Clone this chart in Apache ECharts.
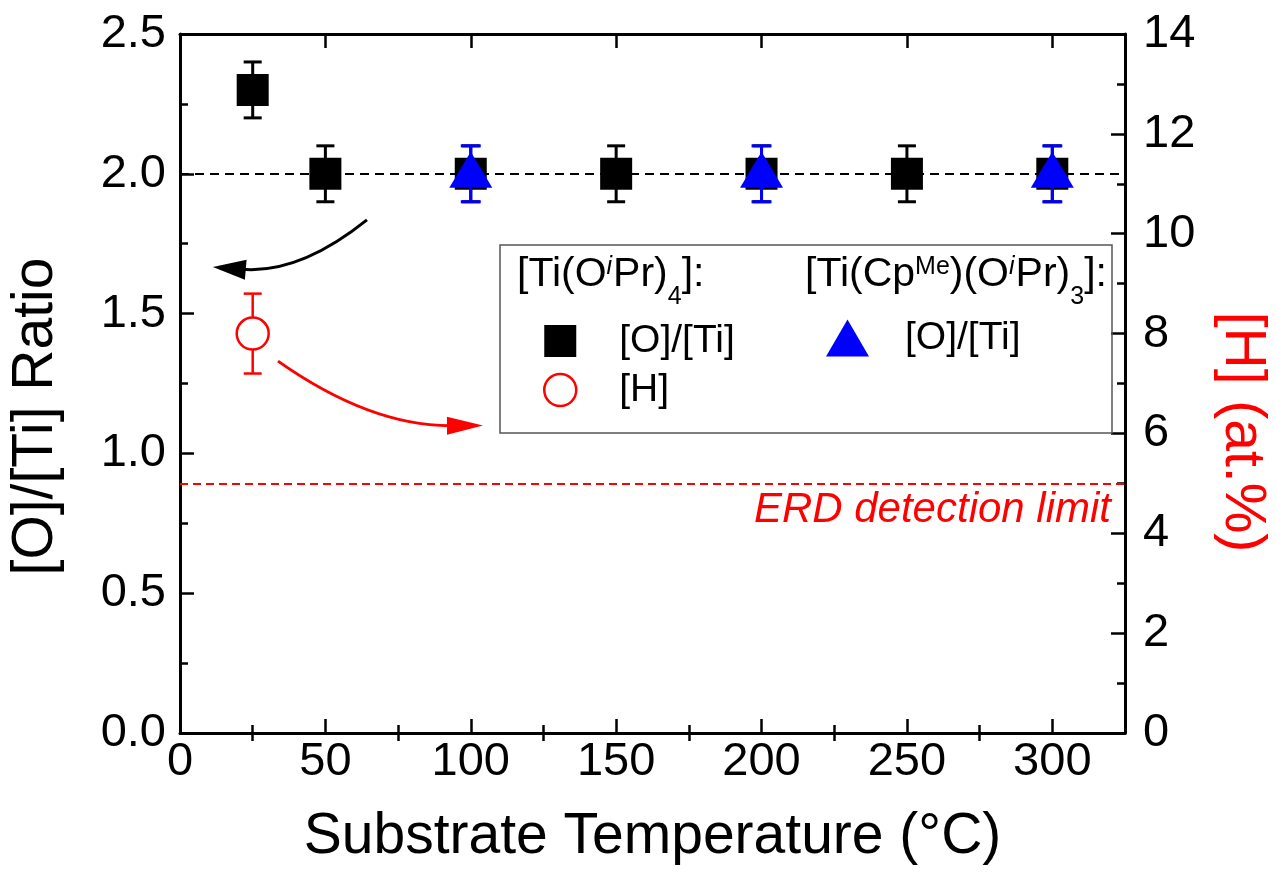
<!DOCTYPE html>
<html>
<head>
<meta charset="utf-8">
<title>[O]/[Ti] ratio and [H] vs substrate temperature</title>
<script src="https://cdn.jsdelivr.net/npm/echarts@6.0.0/dist/echarts.min.js"></script>
<style>
  html, body { margin: 0; padding: 0; background: #fff; }
  #chart { width: 1276px; height: 886px; }
</style>
</head>
<body>
<div id="chart"></div>
<script>
// values
const sqTemp = [25, 50, 100, 150, 200, 250, 300];
const sqRatio = [2.3, 2.0, 2.0, 2.0, 2.0, 2.0, 2.0];
const sqErr = [0.1, 0.1, 0.1, 0.1, 0.1, 0.1, 0.1];

const triTemp = [100, 200, 300];
const triRatio = [2.0, 2.0, 2.0];
const triErr = [0.1, 0.1, 0.1];

const hTemp = [25];
const hConc = [8.0];
const hErr = [0.8];

const ratioRef = 2.0;   // stoichiometric TiO2
const erdLimit = 5.0;   // at.%

// annotation arrows, [from, to] in (temperature, ratio) units
const arrowBlack = [[64.3, 1.835], [11.3, 1.667]];
const arrowRed = [[33.7, 1.33], [104.2, 1.1]];

const xMajorTicks = [0, 50, 100, 150, 200, 250, 300];
const xMinorTicks = [25, 75, 125, 175, 225, 275];

const legendNames = { sq: '[O]/[Ti]', h: '[H]', tri: '[O]/[Ti]' };

const FONT = "'Liberation Sans', Arial, Helvetica, sans-serif";
const BLACK = '#000000';
const BLUE = '#0000ff';
const RED = '#ff0000';

function errData(xs, ys, es) {
  return xs.map((x, i) => [x, ys[i] - es[i], ys[i] + es[i]]);
}

function errorBarRender(color, capHalf, width) {
  return function (params, api) {
    const x = api.value(0);
    const top = api.coord([x, api.value(2)]);
    const bot = api.coord([x, api.value(1)]);
    const seg = (x1, y1, x2, y2) => ({
      type: 'line',
      shape: { x1: x1, y1: y1, x2: x2, y2: y2 },
      style: { stroke: color, lineWidth: width }
    });
    return {
      type: 'group',
      children: [
        seg(top[0], top[1], bot[0], bot[1]),
        seg(top[0] - capHalf, top[1], top[0] + capHalf, top[1]),
        seg(bot[0] - capHalf, bot[1], bot[0] + capHalf, bot[1])
      ]
    };
  };
}

function arrowRender(color, bend, headLen, headHalf, width) {
  return function (params, api) {
    const p1 = api.coord([api.value(0), api.value(1)]);
    const p2 = api.coord([api.value(2), api.value(3)]);
    const cx = (p1[0] + p2[0]) / 2 - (p1[1] - p2[1]) * bend;
    const cy = (p1[1] + p2[1]) / 2 - (p2[0] - p1[0]) * bend;
    let dx = p2[0] - cx;
    let dy = p2[1] - cy;
    const d = Math.hypot(dx, dy);
    dx /= d;
    dy /= d;
    const bx = p2[0] - dx * headLen;
    const by = p2[1] - dy * headLen;
    return {
      type: 'group',
      children: [
        {
          type: 'bezierCurve',
          shape: { x1: p1[0], y1: p1[1], x2: bx + dx * 4, y2: by + dy * 4, cpx1: cx, cpy1: cy },
          style: { stroke: color, lineWidth: width, fill: null }
        },
        {
          type: 'polygon',
          shape: { points: [[p2[0], p2[1]], [bx - dy * headHalf, by + dx * headHalf], [bx + dy * headHalf, by - dx * headHalf]] },
          style: { fill: color }
        }
      ]
    };
  };
}

const tickStyle = { color: BLACK, width: 2.5 };
const lineStyle = { color: BLACK, width: 3 };

const chart = echarts.init(document.getElementById('chart'), null, { renderer: 'canvas' });

const headerRich = {
  n: { fontSize: 41, lineHeight: 70, fontFamily: FONT, fill: BLACK },
  sup: { fontSize: 25, lineHeight: 25, verticalAlign: 'top', padding: [15, 0, 0, 0], fontFamily: FONT, fill: BLACK },
  supi: { fontSize: 25, lineHeight: 25, verticalAlign: 'top', padding: [15, 1, 0, 0], fontStyle: 'italic', fontFamily: FONT, fill: BLACK },
  sub: { fontSize: 25, lineHeight: 25, verticalAlign: 'bottom', fontFamily: FONT, fill: BLACK }
};

chart.setOption({
  animation: false,
  backgroundColor: '#ffffff',
  textStyle: { fontFamily: FONT },
  grid: { left: 180, right: 151, top: 34, bottom: 153, containLabel: false, outerBoundsMode: 'none' },
  xAxis: [
    {
      type: 'value', position: 'bottom', min: 0, max: 325, interval: 50,
      name: 'Substrate Temperature (°C)', nameLocation: 'middle', nameGap: 76,
      nameTextStyle: { fontSize: 57, color: BLACK, fontFamily: FONT },
      axisLine: { show: true, onZero: false, lineStyle: lineStyle },
      axisTick: { show: true, inside: true, length: 14, customValues: xMajorTicks, lineStyle: tickStyle },
      axisLabel: { show: true, customValues: xMajorTicks, fontSize: 47, color: BLACK, fontFamily: FONT, margin: 6 },
      splitLine: { show: false }
    },
    {
      type: 'value', position: 'bottom', min: 0, max: 325,
      axisLine: { show: false },
      axisTick: { show: true, inside: true, length: 8, customValues: xMinorTicks, lineStyle: tickStyle },
      axisLabel: { show: false },
      splitLine: { show: false }
    },
    {
      type: 'value', position: 'top', min: 0, max: 325,
      axisLine: { show: true, onZero: false, lineStyle: lineStyle },
      axisTick: { show: true, inside: true, length: 14, customValues: xMajorTicks, lineStyle: tickStyle },
      axisLabel: { show: false },
      splitLine: { show: false }
    },
    {
      type: 'value', position: 'top', min: 0, max: 325,
      axisLine: { show: false },
      axisTick: { show: true, inside: true, length: 8, customValues: xMinorTicks, lineStyle: tickStyle },
      axisLabel: { show: false },
      splitLine: { show: false }
    }
  ],
  yAxis: [
    {
      type: 'value', position: 'left', min: 0, max: 2.5, interval: 0.5,
      name: '[O]/[Ti] Ratio', nameLocation: 'middle', nameGap: 115, nameRotate: 90,
      nameTextStyle: { fontSize: 57, color: BLACK, fontFamily: FONT, padding: [0, 66, 0, 0] },
      axisLine: { show: true, onZero: false, lineStyle: lineStyle },
      axisTick: { show: true, inside: true, length: 14, lineStyle: tickStyle },
      minorTick: { show: true, splitNumber: 2, length: 8, lineStyle: tickStyle },
      axisLabel: { fontSize: 47, color: BLACK, fontFamily: FONT, margin: 14, formatter: v => v.toFixed(1) },
      splitLine: { show: false },
      minorSplitLine: { show: false }
    },
    {
      type: 'value', position: 'right', min: 0, max: 14, interval: 2,
      name: '[H] (at.%)', nameLocation: 'middle', nameGap: 88, nameRotate: -90,
      nameTextStyle: { fontSize: 57, color: RED, fontFamily: FONT, padding: [0, 0, 0, 97] },
      axisLine: { show: true, onZero: false, lineStyle: lineStyle },
      axisTick: { show: true, inside: true, length: 14, lineStyle: tickStyle },
      minorTick: { show: true, splitNumber: 2, length: 8, lineStyle: tickStyle },
      axisLabel: { fontSize: 47, color: BLACK, fontFamily: FONT, margin: 18 },
      splitLine: { show: false },
      minorSplitLine: { show: false }
    }
  ],
  legend: [
    {
      orient: 'vertical', left: 543, top: 321, padding: 0, itemWidth: 32, itemHeight: 32, itemGap: 9,
      selectedMode: false,
      data: [
        { name: 'sq', icon: 'rect', itemStyle: { color: BLACK, opacity: 1 } },
        { name: 'h', icon: 'circle', itemStyle: { color: '#ffffff', borderColor: RED, borderWidth: 2.5, opacity: 1 } }
      ],
      formatter: n => legendNames[n],
      textStyle: { fontSize: 39, lineHeight: 40, color: BLACK, fontFamily: FONT, padding: [0, 0, 0, 38] }
    },
    {
      orient: 'vertical', left: 826, top: 318, padding: 0, itemWidth: 43, itemHeight: 37,
      selectedMode: false,
      data: [{ name: 'tri', icon: 'triangle', itemStyle: { color: BLUE, opacity: 1 } }],
      formatter: n => legendNames[n],
      textStyle: { fontSize: 39, lineHeight: 40, color: BLACK, fontFamily: FONT, padding: [0, 0, 0, 31] }
    }
  ],
  graphic: [
    {
      type: 'rect', silent: true, z: 10,
      shape: { x: 500, y: 245, width: 612, height: 188 },
      style: { fill: null, stroke: '#555555', lineWidth: 1.5 }
    },
    {
      type: 'text', silent: true, z: 10, x: 517, y: 240,
      style: {
        text: '{n|[Ti(O}{supi|i}{n|Pr)}{sub|4}{n|]:}',
        rich: headerRich, align: 'left', verticalAlign: 'top'
      }
    },
    {
      type: 'text', silent: true, z: 10, x: 805, y: 240,
      style: {
        text: '{n|[Ti(Cp}{sup|Me}{n|)(O}{supi|i}{n|Pr)}{sub|3}{n|]:}',
        rich: headerRich, align: 'left', verticalAlign: 'top'
      }
    }
  ],
  series: [
    {
      name: 'ref', type: 'line', data: [], z: 1, silent: true,
      markLine: {
        silent: true, symbol: ['none', 'none'], animation: false,
        lineStyle: { color: BLACK, width: 2, type: [9, 6], opacity: 1 },
        label: { show: false },
        data: [{ yAxis: ratioRef }]
      }
    },
    {
      name: 'erd', type: 'line', yAxisIndex: 1, data: [], z: 1, silent: true,
      markLine: {
        silent: true, symbol: ['none', 'none'], animation: false,
        lineStyle: { color: RED, width: 2, type: [8, 5], opacity: 1 },
        label: {
          show: true, position: 'insideEndBottom', formatter: 'ERD detection limit',
          color: RED, fontSize: 42, fontStyle: 'italic', fontFamily: FONT, distance: [14, 6]
        },
        data: [{ yAxis: erdLimit }]
      }
    },
    {
      name: 'sqErr', type: 'custom', z: 2, silent: true,
      renderItem: errorBarRender(BLACK, 9, 3),
      data: errData(sqTemp, sqRatio, sqErr)
    },
    {
      name: 'sq', type: 'scatter', z: 3, symbol: 'rect', symbolSize: 32,
      itemStyle: { color: BLACK, opacity: 1 },
      data: sqTemp.map((t, i) => [t, sqRatio[i]])
    },
    {
      name: 'triErr', type: 'custom', z: 4, silent: true,
      renderItem: errorBarRender(BLUE, 10, 3),
      data: errData(triTemp, triRatio, triErr)
    },
    {
      name: 'tri', type: 'scatter', z: 5, symbol: 'triangle', symbolSize: [43, 36],
      symbolOffset: [0, -4],
      itemStyle: { color: BLUE, opacity: 1 },
      data: triTemp.map((t, i) => [t, triRatio[i]])
    },
    {
      name: 'hErr', type: 'custom', yAxisIndex: 1, z: 2, silent: true,
      renderItem: errorBarRender(RED, 9, 2.5),
      data: errData(hTemp, hConc, hErr)
    },
    {
      name: 'h', type: 'scatter', yAxisIndex: 1, z: 3, symbol: 'circle', symbolSize: 32,
      itemStyle: { color: '#ffffff', borderColor: RED, borderWidth: 2.5, opacity: 1 },
      data: hTemp.map((t, i) => [t, hConc[i]])
    },
    {
      name: 'arrowBlack', type: 'custom', z: 6, silent: true,
      renderItem: arrowRender(BLACK, 0.2, 33, 10, 3),
      data: [[arrowBlack[0][0], arrowBlack[0][1], arrowBlack[1][0], arrowBlack[1][1]]]
    },
    {
      name: 'arrowRed', type: 'custom', z: 6, silent: true,
      renderItem: arrowRender(RED, -0.16, 36, 9, 3),
      data: [[arrowRed[0][0], arrowRed[0][1], arrowRed[1][0], arrowRed[1][1]]]
    }
  ]
});
</script>
</body>
</html>
